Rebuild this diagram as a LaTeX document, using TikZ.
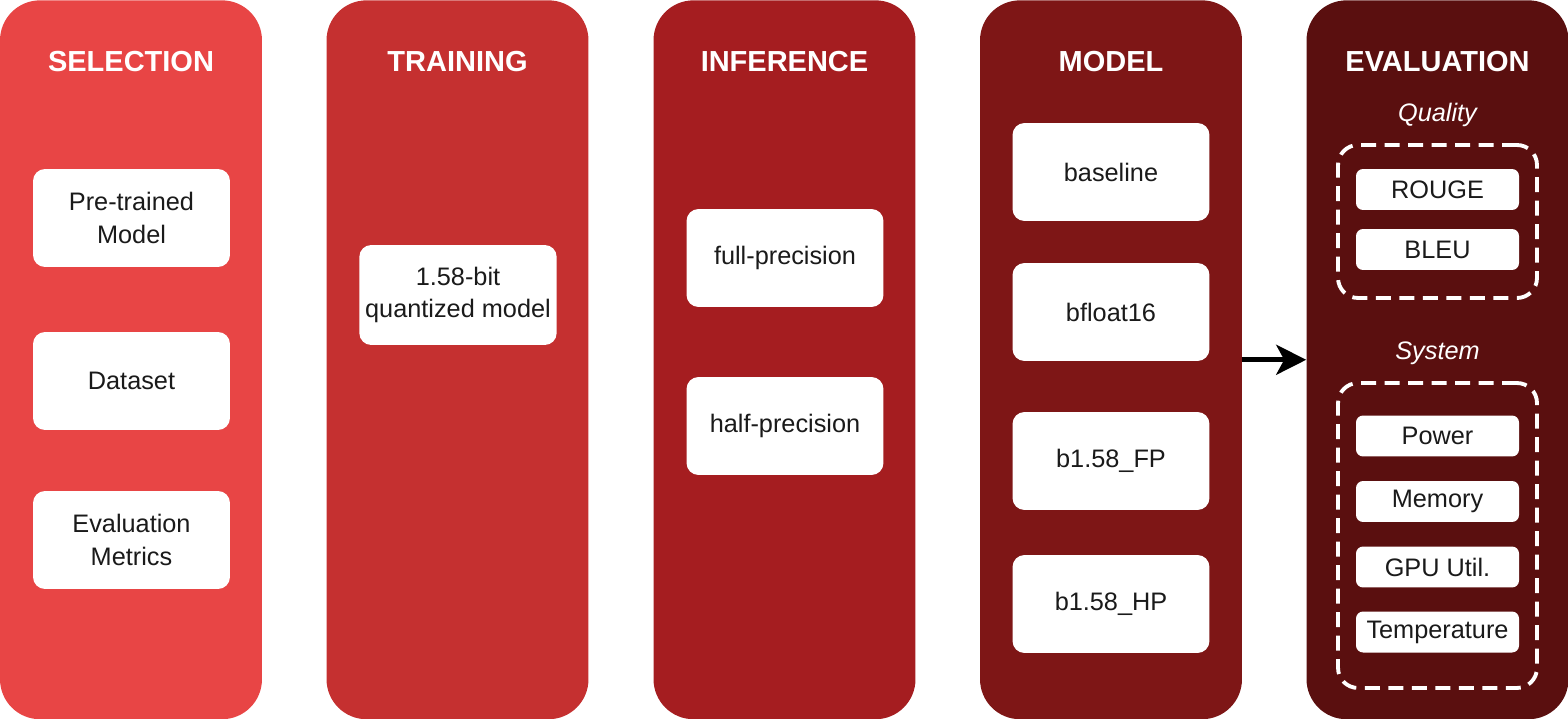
\documentclass[tikz,border=0pt]{standalone}
\usepackage{fontspec}
\setmainfont{Liberation Sans}
\usetikzlibrary{arrows.meta}

\definecolor{selc}{HTML}{E84545}
\definecolor{trac}{HTML}{C53030}
\definecolor{infc}{HTML}{A51D20}
\definecolor{modc}{HTML}{7E1616}
\definecolor{evac}{HTML}{5A0F0F}
\definecolor{ink}{HTML}{1A1A1A}

\begin{document}
\begin{tikzpicture}[x = 0.02cm, y = -0.02cm,
    col/.style = {rounded corners = 0.8cm, minimum width = 5.24cm, minimum height = 14.38cm, anchor = north, inner sep = 0pt},
    card/.style = {fill = white, rounded corners = 0.24cm, minimum width = 3.94cm, minimum height = 1.96cm, align = center, text = ink,
                   font = \fontsize{14.4}{18.7}\selectfont},
    pill/.style = {fill = white, rounded corners = 0.14cm, minimum width = 3.26cm, minimum height = 0.82cm, inner sep = 0pt, text = ink,
                   font = \fontsize{14.4}{17}\selectfont},
    dashbox/.style = {draw = white, line width = 2.2pt, dash pattern = on 0.3cm off 0.17cm, rounded corners = 0.4cm, minimum width = 3.98cm},
    title/.style = {text = white, font = \fontsize{16.5}{20}\selectfont\bfseries},
    sub/.style = {text = white, font = \fontsize{14.4}{17}\selectfont\itshape}]
          \useasboundingbox (0, 0) rectangle (1568, 719);
          % columns
          \node[col, fill = selc] (sel) at (131, 0) {};
          \node[col, fill = trac] (tra) at (457.5, 0) {};
          \node[col, fill = infc] (inf) at (784.5, 0) {};
          \node[col, fill = modc] (mod) at (1111, 0) {};
          \node[col, fill = evac] (eva) at (1437.5, 0) {};
          \node[title] (seltitle) at (131, 62) {SELECTION};
          \node[title] (tratitle) at (457.5, 62) {TRAINING};
          \node[title] (inftitle) at (784.5, 62) {INFERENCE};
          \node[title] (modtitle) at (1111, 62) {MODEL};
          \node[title] (evatitle) at (1437.5, 62) {EVALUATION};
          % selection
          \node[card] (pretrained) at (131.5, 218) {Pre-trained\\Model};
          \node[card] (dataset) at (131.5, 381) {Dataset};
          \node[card] (metrics) at (131.5, 540) {Evaluation\\Metrics};
          % training
          \node[card, minimum height = 2cm] (quant) at (458, 295) {1.58-bit\\quantized model};
          % inference
          \node[card] (fullp) at (785, 258) {full-precision};
          \node[card] (halfp) at (785, 426) {half-precision};
          % model
          \node[card] (baseline) at (1111, 172) {baseline};
          \node[card] (bf16) at (1111, 312) {bfloat16};
          \node[card] (bfp) at (1111, 461) {b1.58\_FP};
          \node[card] (bhp) at (1111, 604) {b1.58\_HP};
          % evaluation
          \node[sub] (quality) at (1437.5, 115) {Quality};
          \node[dashbox, minimum height = 3.06cm] (qbox) at (1437.5, 221.5) {};
          \node[pill] (rouge) at (1437.5, 189.5) {ROUGE};
          \node[pill] (bleu) at (1437.5, 249.5) {BLEU};
          \node[sub] (system) at (1437.5, 353) {System};
          \node[dashbox, minimum height = 6.1cm] (sbox) at (1437.5, 535.5) {};
          \node[pill] (power) at (1437.5, 436) {Power};
          \node[pill] (memory) at (1437.5, 501.5) {Memory};
          \node[pill] (gpu) at (1437.5, 567) {GPU Util.};
          \node[pill] (temp) at (1437.5, 632) {Temperature};
          \draw[line width = 2.6pt, -{Stealth[length = 0.6cm, width = 0.6cm, inset = 0.16cm]}] (mod.east) -- (eva.west);
        \end{tikzpicture}
\end{document}
